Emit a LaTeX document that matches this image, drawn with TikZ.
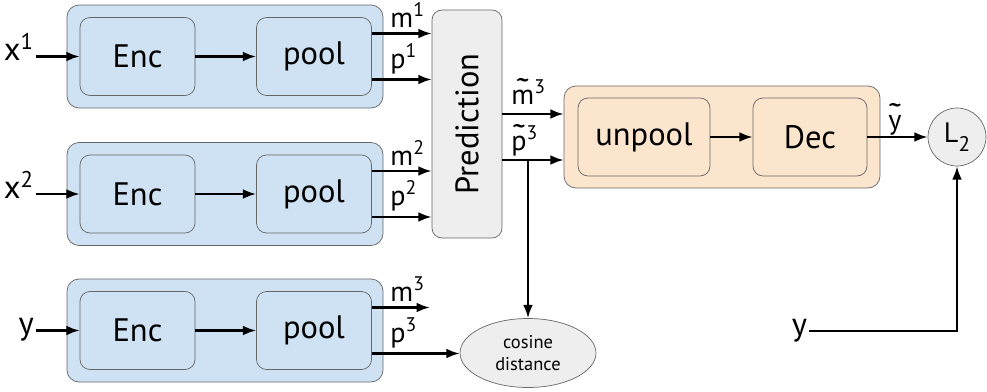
\documentclass[tikz,border=0pt]{standalone}
\usepackage{fontspec}
\setmainfont{PT Sans}
\usepackage{tikz}
\usetikzlibrary{arrows.meta, shapes.geometric}

\definecolor{encblue}{HTML}{CFE2F3}
\definecolor{decorange}{HTML}{FCE5CD}
\definecolor{boxgray}{HTML}{EEEEEE}
\definecolor{edgegray}{HTML}{666666}

% letter with a tilde set over it
\newcommand{\tld}[1]{\ooalign{#1\cr\hidewidth\raisebox{0.15ex}{\scalebox{1.5}[1.2]{\char"02DC}}\hidewidth\cr}}

\begin{document}
\begin{tikzpicture}[
  every node/.style={font=\fontsize{18.5}{20}\selectfont},
  outer/.style={draw=edgegray, rounded corners=0.24cm, minimum width=6.32cm, minimum height=2.06cm},
  inner/.style={draw=edgegray, rounded corners=0.2cm, minimum width=2.3cm, minimum height=1.56cm},
  sig/.style={font=\fontsize{16}{18}\selectfont, inner sep=1pt, anchor=south west},
  inp/.style={inner sep=1pt, anchor=mid east},
  flow/.style={line width=1.2pt, -{Latex[length=7.5pt,width=5.5pt]}}]

  \useasboundingbox (0,0) rectangle (19.74,-7.82);

  % three encoder rows
  \node[outer, fill=encblue] (row1) at (4.5,-1.13) {};
  \node[inner, fill=encblue] (enc1) at (2.75,-1.13) {Enc};
  \node[inner, fill=encblue] (pool1) at (6.28,-1.13) {pool};
  \node[inp] (x1) at (0.72,-1.13) {x\textsuperscript{1}};

  \node[outer, fill=encblue] (row2) at (4.5,-3.88) {};
  \node[inner, fill=encblue] (enc2) at (2.75,-3.88) {Enc};
  \node[inner, fill=encblue] (pool2) at (6.28,-3.88) {pool};
  \node[inp] (x2) at (0.72,-3.88) {x\textsuperscript{2}};

  \node[outer, fill=encblue] (row3) at (4.5,-6.61) {};
  \node[inner, fill=encblue] (enc3) at (2.75,-6.61) {Enc};
  \node[inner, fill=encblue] (pool3) at (6.28,-6.61) {pool};
  \node[inp] (y1) at (0.72,-6.61) {y};

  % prediction block
  \node[draw=edgegray, fill=boxgray, rounded corners=0.2cm, minimum width=1.4cm, minimum height=4.56cm] (pred) at (9.34,-2.48) {};
  \node[rotate=90] (predtxt) at (pred) {Prediction};

  % decoder
  \node[outer, fill=decorange, minimum height=2.04cm] (decoder) at (14.44,-2.74) {};
  \node[inner, fill=decorange, minimum width=2.64cm] (unpool) at (12.88,-2.74) {unpool};
  \node[inner, fill=decorange, minimum width=2.28cm] (dec) at (16.2,-2.74) {Dec};

  \node[circle, draw=edgegray, fill=boxgray, minimum size=1.16cm, inner sep=0pt, font=\fontsize{16}{18}\selectfont] (l2) at (19.14,-2.74) {L\raisebox{-0.6ex}{\fontsize{12}{14}\selectfont 2}};
  \node[ellipse, draw=edgegray, fill=boxgray, minimum width=2.72cm, minimum height=1.38cm, inner sep=0pt, align=center, font=\fontsize{10.5}{12.4}\selectfont] (cos) at (10.56,-7.06) {cosine\\distance};
  \node[inp] (y2) at (16.18,-6.62) {y};

  % inputs
  \draw[flow] (x1.mid east) -- (enc1);
  \draw[flow] (x2.mid east) -- (enc2);
  \draw[flow] (y1.mid east) -- (enc3);
  \draw[flow] (enc1) -- (pool1);
  \draw[flow] (enc2) -- (pool2);
  \draw[flow] (enc3) -- (pool3);

  % m and p outputs
  \draw[flow] ([yshift=0.46cm]pool1.east) -- ([yshift=0.46cm]pool1.east -| pred.west);
  \draw[flow] ([yshift=-0.46cm]pool1.east) -- ([yshift=-0.46cm]pool1.east -| pred.west);
  \draw[flow] ([yshift=0.46cm]pool2.east) -- ([yshift=0.46cm]pool2.east -| pred.west);
  \draw[flow] ([yshift=-0.46cm]pool2.east) -- ([yshift=-0.46cm]pool2.east -| pred.west);
  \coordinate (m3end) at ([xshift=1.16cm, yshift=0.46cm]pool3.east);
  \draw[flow] ([yshift=0.46cm]pool3.east) -- (m3end);
  \draw[flow] ([yshift=-0.46cm]pool3.east) -- ([yshift=-0.46cm]pool3.east -| cos.west);

  \node[sig] (m1) at ([xshift=0.33cm, yshift=0.53cm]pool1.east) {m\textsuperscript{1}};
  \node[sig] (p1) at ([xshift=0.33cm, yshift=-0.39cm]pool1.east) {p\textsuperscript{1}};
  \node[sig] (m2) at ([xshift=0.33cm, yshift=0.53cm]pool2.east) {m\textsuperscript{2}};
  \node[sig] (p2) at ([xshift=0.33cm, yshift=-0.39cm]pool2.east) {p\textsuperscript{2}};
  \node[sig] (m3) at ([xshift=0.33cm, yshift=0.53cm]pool3.east) {m\textsuperscript{3}};
  \node[sig] (p3) at ([xshift=0.33cm, yshift=-0.39cm]pool3.east) {p\textsuperscript{3}};

  % predicted codes into the decoder
  \draw[flow] ([yshift=0.46cm]decoder.west -| pred.east) -- ([yshift=0.46cm]decoder.west);
  \draw[flow] ([yshift=-0.46cm]decoder.west -| pred.east) -- ([yshift=-0.46cm]decoder.west);
  \draw[flow] ([yshift=-0.46cm]decoder.west -| cos.north) -- (cos.north);
  \node[sig] (mt3) at ([xshift=0.14cm, yshift=0.6cm]decoder.west -| pred.east) {\tld{m}\textsuperscript{3}};
  \node[sig] (pt3) at ([xshift=0.14cm, yshift=-0.32cm]decoder.west -| pred.east) {\tld{p}\textsuperscript{3}};

  \draw[flow] (unpool) -- (dec);
  \draw[flow] (dec) -- (l2);
  \node[sig] (yt) at ([xshift=0.38cm, yshift=0.1cm]dec.east) {\tld{y}};
  \draw[flow] (y2.mid east) -| (l2.south);
\end{tikzpicture}
\end{document}
